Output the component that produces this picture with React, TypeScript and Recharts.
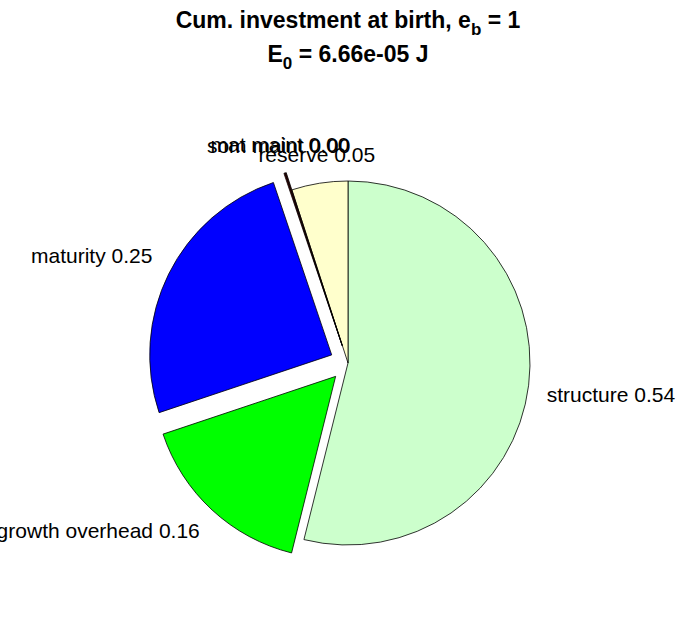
// Pie of cumulative investment at birth, exploded slices done with one offset Pie per slice.
import { Cell, Pie, PieChart } from 'recharts';

const sliceNames = ['structure', 'growth overhead', 'maturity', 'som maint', 'mat maint', 'reserve'];
const sliceShares = [0.54, 0.16, 0.25, 0.001, 0.001, 0.05];
const sliceColors = ['#ccffcc', '#00ff00', '#0000ff', '#800000', '#400000', '#ffffcc'];
const sliceExploded = [false, true, true, true, true, false];

const W = 696;
const H = 618;
const CX = 348;
const CY = 363;
const R = 182;
const EXPLODE = 0.1 * R;
const RAD = Math.PI / 180;
const FONT = "'Liberation Sans', Arial, sans-serif";

const data = sliceNames.map((name, i) => ({ name, value: sliceShares[i] }));

// mid angle of each slice, clockwise from 12 o'clock
const total = sliceShares.reduce((a, b) => a + b, 0);
const midAngles: number[] = [];
let acc = 0;
sliceShares.forEach((v) => {
  midAngles.push(((acc + v / 2) / total) * 360);
  acc += v;
});

// groups: all non-exploded slices share one pie, each exploded slice gets its own
const groups: number[][] = [sliceShares.map((_, i) => i).filter((i) => !sliceExploded[i])];
sliceExploded.forEach((e, i) => {
  if (e) groups.push([i]);
});

function renderLabel(show: number[]) {
  return (props: any) => {
    const { cx, cy, midAngle, index, name, value } = props;
    if (!show.includes(index)) return null;
    const dx = Math.cos(-midAngle * RAD);
    const dy = Math.sin(-midAngle * RAD);
    const x = cx + 1.1 * R * dx;
    const y = cy + 1.1 * R * dy;
    const anchor = Math.abs(dx) < 0.5 ? 'middle' : dx > 0 ? 'start' : 'end';
    const baseline = dy > 0 ? y + 15 : y - 3;
    return (
      <text
        key={`lbl-${index}`}
        x={x}
        y={baseline}
        textAnchor={anchor}
        fontSize={21}
        fontFamily={FONT}
        fill="#000"
      >
        {`${name} ${value.toFixed(2)}`}
      </text>
    );
  };
}

export default function App() {
  return (
    <div style={{ position: 'absolute', left: 0, top: 0, width: W, height: H, background: '#fff' }}>
      <PieChart width={W} height={H} margin={{ top: 0, right: 0, bottom: 0, left: 0 }}>
        {groups.map((g, gi) => {
          let ox = 0;
          let oy = 0;
          if (g.length === 1 && sliceExploded[g[0]]) {
            ox = EXPLODE * Math.sin(midAngles[g[0]] * RAD);
            oy = -EXPLODE * Math.cos(midAngles[g[0]] * RAD);
          }
          return (
            <Pie
              key={gi}
              data={data}
              dataKey="value"
              nameKey="name"
              cx={CX + ox}
              cy={CY + oy}
              outerRadius={R}
              innerRadius={0}
              startAngle={90}
              endAngle={-270}
              paddingAngle={0}
              labelLine={false}
              label={renderLabel(g)}
              isAnimationActive={false}
            >
              {data.map((d, i) => (
                <Cell
                  key={d.name}
                  fill={g.includes(i) ? sliceColors[i] : 'none'}
                  stroke={g.includes(i) ? '#000' : 'none'}
                  strokeWidth={0.8}
                />
              ))}
            </Pie>
          );
        })}
        <text x={CX} y={28} textAnchor="middle" fontSize={23} fontWeight="bold" fontFamily={FONT}>
          Cum. investment at birth, e
          <tspan fontSize={17} dy={7}>b</tspan>
          <tspan dy={-7}> = 1</tspan>
        </text>
        <text x={CX} y={62} textAnchor="middle" fontSize={23} fontWeight="bold" fontFamily={FONT}>
          E
          <tspan fontSize={17} dy={7}>0</tspan>
          <tspan dy={-7}> = 6.66e-05 J</tspan>
        </text>
      </PieChart>
    </div>
  );
}
